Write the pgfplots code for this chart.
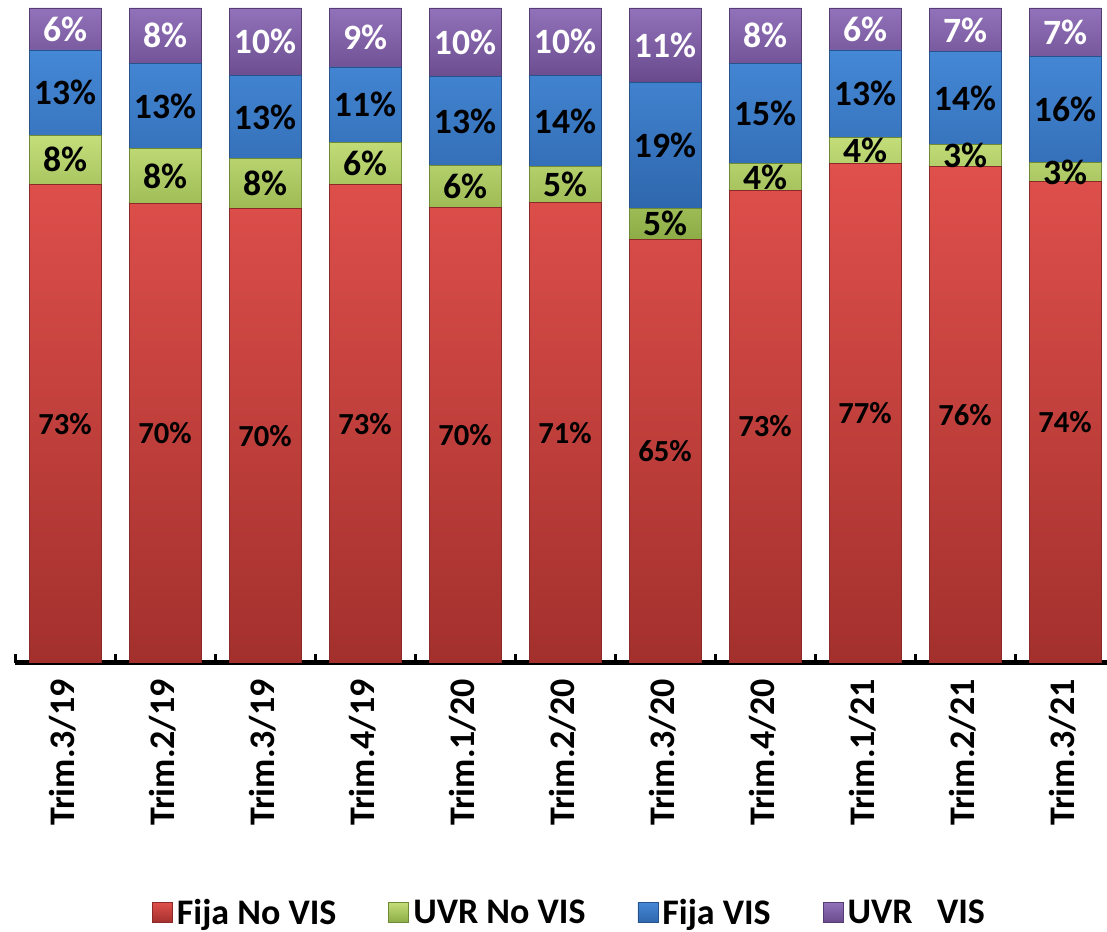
\documentclass[border=0pt]{standalone}
\usepackage{fontspec}
\setmainfont{Carlito}
\usepackage{pgfplots}
\usepackage{pgfplotstable}
\pgfplotsset{compat=1.18}

\definecolor{redT}{HTML}{E0504C}
\definecolor{redB}{HTML}{A3302D}
\definecolor{redD}{HTML}{8A2A28}
\definecolor{grnT}{HTML}{C4DE7A}
\definecolor{grnB}{HTML}{8DAC46}
\definecolor{grnD}{HTML}{6E8A34}
\definecolor{bluT}{HTML}{4588D6}
\definecolor{bluB}{HTML}{2E67AD}
\definecolor{bluD}{HTML}{25538C}
\definecolor{purT}{HTML}{9272BA}
\definecolor{purB}{HTML}{684A8C}
\definecolor{purD}{HTML}{553C73}

% x: category, v: segment share, c: centre of the segment (for its label), lab: label
\pgfplotstableread{
x v c lab
0 73.1 36.55 73
1 70.2 35.10 70
2 69.4 34.70 70
3 73.1 36.55 73
4 69.6 34.80 70
5 70.3 35.15 71
6 64.7 32.35 65
7 72.2 36.10 73
8 76.3 38.15 77
9 75.8 37.90 76
10 73.5 36.75 74
}\fijanovis

\pgfplotstableread{
x v c lab
0 7.5 76.85 8
1 8.3 74.35 8
2 7.6 73.20 8
3 6.4 76.30 6
4 6.4 72.80 6
5 5.5 73.05 5
6 4.7 67.05 5
7 4.0 74.20 4
8 4.0 78.30 4
9 3.4 77.50 3
10 2.9 74.95 3
}\uvrnovis

\pgfplotstableread{
x v c lab
0 13.0 87.10 13
1 13.1 85.05 13
2 12.7 83.35 13
3 11.5 85.25 11
4 13.5 82.75 13
5 13.9 82.75 14
6 19.3 79.05 19
7 15.4 83.90 15
8 13.3 86.95 13
9 14.1 86.25 14
10 16.2 84.50 16
}\fijavis

\pgfplotstableread{
x v c lab
0 6.4 96.80 6
1 8.4 95.80 8
2 10.3 94.85 10
3 9.0 95.50 9
4 10.5 94.75 10
5 10.3 94.85 10
6 11.3 94.35 11
7 8.4 95.80 8
8 6.4 96.80 6
9 6.7 96.65 7
10 7.4 96.30 7
}\uvrvis

\pgfplotsset{
  common/.style={
    at={(7.5pt,134pt)}, anchor=south west,
    scale only axis, width=550pt, height=327.5pt,
    xmin=-0.5, xmax=10.5, ymin=0, ymax=100,
  },
  lbl/.style={draw=none, mark=none, point meta=explicit symbolic,
    nodes near coords={\pgfplotspointmeta\%},
    every node near coord/.append style={anchor=center, inner sep=0pt,
      font=\fontsize{17.8}{20}\selectfont\bfseries, text=black}},
}

\begin{document}
\begin{tikzpicture}
\begin{axis}[
  common,
  ybar stacked, bar width=36pt,
  axis x line*=bottom, axis y line=none,
  x axis line style={line width=2.5pt, -},
  xtick={0,...,10},
  xticklabels={Trim.3/19,Trim.2/19,Trim.3/19,Trim.4/19,Trim.1/20,Trim.2/20,Trim.3/20,Trim.4/20,Trim.1/21,Trim.2/21,Trim.3/21},
  major tick length=0pt,
  extra x ticks={-0.5,0.5,...,10.5},
  extra x tick labels={},
  extra x tick style={major tick length=4.5pt, tick align=inside, tick style={line width=1.5pt, black}},
  xticklabel style={rotate=90, anchor=east, xshift=-4.5pt, yshift=1pt, font=\fontsize{18}{21}\selectfont\bfseries},
  legend columns=4,
  legend style={at={(0.505,-0.382)}, anchor=center, draw=none, fill=none,
    font=\fontsize{18}{21}\selectfont\bfseries,
    /tikz/every even column/.append style={column sep=24pt},
    /tikz/every odd column/.append style={column sep=0pt},
    inner sep=0pt},
  legend image code/.code={\draw[#1] (0pt,-4.6pt) rectangle (10pt,5.6pt);},
]
\addplot[draw=redD, line width=0.4pt, top color=redT, bottom color=redB]
  table[x=x, y=v] {\fijanovis};
\addplot[draw=grnD, line width=0.4pt, top color=grnT, bottom color=grnB]
  table[x=x, y=v] {\uvrnovis};
\addplot[draw=bluD, line width=0.4pt, top color=bluT, bottom color=bluB]
  table[x=x, y=v] {\fijavis};
\addplot[draw=purD, line width=0.4pt, top color=purT, bottom color=purB]
  table[x=x, y=v] {\uvrvis};
\legend{Fija No VIS, UVR No VIS, Fija VIS, UVR\ \ \ VIS}
\end{axis}
\begin{axis}[common, hide axis]
\addplot[lbl, every node near coord/.append style={font=\fontsize{15.3}{18}\selectfont\bfseries}]
  table[x=x, y=c, meta=lab] {\fijanovis};
\addplot[lbl] table[x=x, y=c, meta=lab] {\uvrnovis};
\addplot[lbl] table[x=x, y=c, meta=lab] {\fijavis};
\addplot[lbl, every node near coord/.append style={text=white}]
  table[x=x, y=c, meta=lab] {\uvrvis};
\end{axis}
\pgfresetboundingbox
\useasboundingbox (0,0) rectangle (553.5pt,465.5pt);
\end{tikzpicture}
\end{document}
